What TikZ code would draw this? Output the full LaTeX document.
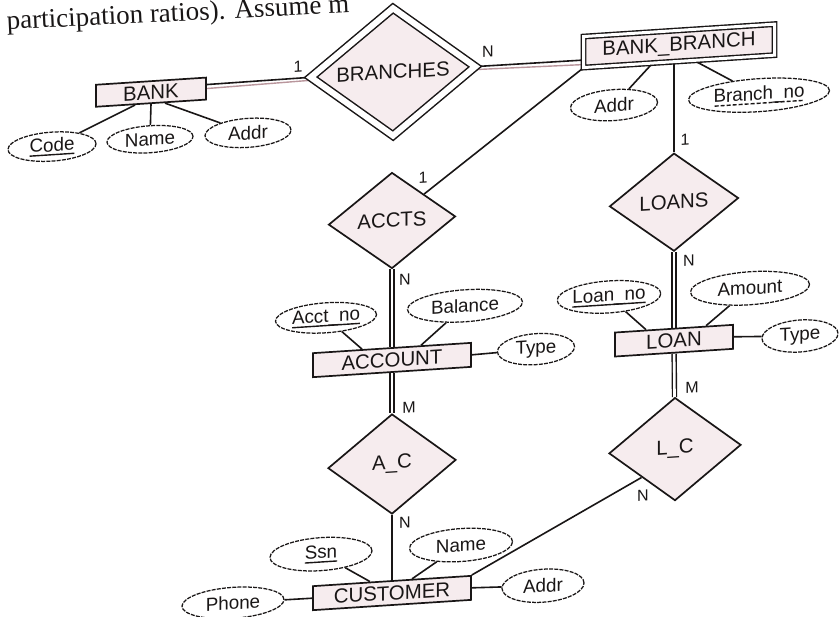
\documentclass[tikz,border=0pt]{standalone}
\usepackage{fontspec}
\usetikzlibrary{shapes.geometric,calc}
\newfontfamily\erfont{Liberation Sans}
\newfontfamily\txtfont{Liberation Serif}
\pgfdeclarelayer{bg}
\pgfsetlayers{bg,main}
\definecolor{boxfill}{RGB}{246,236,238}
\definecolor{ink}{RGB}{25,22,22}
\definecolor{faintink}{RGB}{185,150,156}
% solid underline for key attributes, dashed one for a partial key
\newcommand{\keyul}[1]{\setbox0\hbox{#1}%
  \rlap{\vrule height -2.6pt depth 4.0pt width \wd0}\box0}
\newcommand{\partialul}[1]{\setbox0\hbox{#1}%
  \rlap{\hbox to \wd0{\leaders\hbox to 6pt{\hss\vrule height -2.6pt depth 4.0pt width 4pt\hss}\hfill}}\box0}
\tikzset{
  ent/.style={rectangle, draw=ink, line width=1.7pt, fill=boxfill, inner sep=0pt,
    font=\erfont\fontsize{20.4}{24}\selectfont, text=ink},
  weakent/.style={ent, line width=1.4pt, double=white, double distance=3pt},
  rel/.style={diamond, draw=ink, line width=1.7pt, fill=boxfill, inner sep=0pt,
    font=\erfont\fontsize{20.4}{24}\selectfont, text=ink},
  weakrel/.style={rel, line width=1.5pt, double=white, double distance=6pt},
  attr/.style={ellipse, draw=ink, line width=1.25pt, dash pattern=on 4pt off 1.2pt,
    fill=white, inner sep=0pt, font=\erfont\fontsize{18.8}{22}\selectfont, text=ink},
  conn/.style={draw=ink, line width=1.6pt},
  faint/.style={draw=faintink, line width=1.4pt},
  total/.style={draw=ink, line width=1.4pt, double=white, double distance=2.6pt},
  card/.style={font=\erfont\fontsize{16}{19}\selectfont, inner sep=0pt, text=ink},
}
\begin{document}
\begin{tikzpicture}[x=1pt,y=-1pt]
\useasboundingbox (0,0) rectangle (839,617);
\clip (0,0) rectangle (839,617);
\begin{pgfonlayer}{bg}
  \fill[white] (0,0) rectangle (839,617);
\end{pgfonlayer}

% line of running text above the figure
\node[anchor=base west, inner sep=0pt, rotate=2.8, text=ink,
      font=\txtfont\fontsize{27}{32}\selectfont] (hdr) at (7,29.5)
  {participation ratios). Assume m};

\begin{scope}[yslant=0.065, transform shape]
  % entity types
  \node[ent, minimum width=110pt, minimum height=22pt] (bank) at (151,102) {BANK};
  \node[weakent, minimum width=191pt, minimum height=31pt] (bb) at (679,90) {BANK\_BRANCH};
  \node[ent, minimum width=158pt, minimum height=24pt] (account) at (392,385.5) {ACCOUNT};
  \node[ent, minimum width=118pt, minimum height=24pt] (loan) at (674,384.5) {LOAN};
  \node[ent, minimum width=158pt, minimum height=24pt] (cust) at (392,618.5) {CUSTOMER};

  % relationship types
  \node[weakrel, minimum width=165pt, minimum height=128pt] (branches) at (393,97.5) {BRANCHES};
  \node[rel, minimum width=127pt, minimum height=96pt] (accts) at (392,246) {ACCTS};
  \node[rel, minimum width=129pt, minimum height=98pt] (loans) at (674,246) {LOANS};
  \node[rel, minimum width=128pt, minimum height=100pt] (ac) at (392,489.5) {A\_C};
  \node[rel, minimum width=132pt, minimum height=103pt] (lc) at (675,493) {L\_C};

  % attributes
  \node[attr, minimum width=88pt, minimum height=29pt] (code) at (52,150) {\keyul{Code}};
  \node[attr, minimum width=86pt, minimum height=27pt] (bname) at (150,149) {Name};
  \node[attr, minimum width=86pt, minimum height=29pt] (baddr) at (248,149) {Addr};
  \node[attr, minimum width=87pt, minimum height=31pt] (bbaddr) at (614,145) {Addr};
  \node[attr, minimum width=141pt, minimum height=33pt] (bno) at (759,144.5) {\partialul{Branch\_no}};
  \node[attr, minimum width=101pt, minimum height=30pt] (acctno) at (326,339) {\keyul{Acct\_no}};
  \node[attr, minimum width=115pt, minimum height=32pt] (balance) at (465,336) {Balance};
  \node[attr, minimum width=77pt, minimum height=31pt] (atype) at (536,384) {Type};
  \node[attr, minimum width=98pt, minimum height=32pt] (loanno) at (609,336.5) {\keyul{Loan\_no}};
  \node[attr, minimum width=119pt, minimum height=33pt] (amount) at (750,337) {Amount};
  \node[attr, minimum width=76pt, minimum height=32pt] (ltype) at (800,388) {Type};
  \node[attr, minimum width=102pt, minimum height=33pt] (ssn) at (321,575) {\keyul{Ssn}};
  \node[attr, minimum width=103pt, minimum height=33pt] (cname) at (461,575) {Name};
  \node[attr, minimum width=82pt, minimum height=33pt] (caddr) at (543,621) {Addr};
  \node[attr, minimum width=102pt, minimum height=31pt] (phone) at (233,618) {Phone};

  \begin{pgfonlayer}{bg}
    % relationship connectors
    \draw[conn] ($(bank.east)+(0,-4)$) -- (branches.west);
    \draw[faint] (bank.east) -- ($(branches.west)+(0,3)$);
    \draw[conn] (branches.east) -- ($(bb.west)+(0,8)$);
    \draw[faint] ($(branches.east)+(0,3)$) -- ($(bb.west)+(0,12.5)$);
    \draw[conn] (bb.south west) -- (accts.north east);
    \draw[conn] (loans |- bb.south) -- (loans);
    \draw[total] (accts) -- (account);
    \draw[total] (account) -- (ac);
    \draw[total] (loans) -- (loan);
    \draw[total] (loan) -- (lc);
    \draw[conn] (ac) -- (cust);
    \draw[conn] (lc.south west) -- (cust.north east);

    % attribute connectors
    \draw[conn] ($(bank.south)+(-16,0)$) -- (code);
    \draw[conn] (bank.south) -- (bname);
    \draw[conn] ($(bank.south)+(14,0)$) -- (baddr);
    \draw[conn] ($(bb.south)+(-27,0)$) -- (bbaddr);
    \draw[conn] ($(bb.south)+(16,0)$) -- (bno);
    \draw[conn] ($(account.north)+(-30,0)$) -- (acctno);
    \draw[conn] ($(account.north)+(29,0)$) -- (balance);
    \draw[conn] (account.east) -- (atype);
    \draw[conn] ($(loan.north)+(-28,0)$) -- (loanno);
    \draw[conn] ($(loan.north)+(32,0)$) -- (amount);
    \draw[conn] (loan.east) -- (ltype);
    \draw[conn] ($(cust.north)+(-22,0)$) -- (ssn);
    \draw[conn] ($(cust.north)+(20,0)$) -- (cname);
    \draw[conn] (cust.west) -- (phone);
    \draw[conn] (cust.east) -- (caddr);
  \end{pgfonlayer}

  % cardinality ratios
  \node[card] (c1) at (298,86.4) {1};
  \node[card] (c2) at (488,83.7) {N};
  \node[card] (c3) at (423,205.5) {1};
  \node[card] (c4) at (685,184.5) {1};
  \node[card] (c5) at (405,306) {N};
  \node[card] (c6) at (689,305) {N};
  \node[card] (c7) at (409,434) {M};
  \node[card] (c8) at (692,433) {M};
  \node[card] (c9) at (405,549) {N};
  \node[card] (c10) at (643,537) {N};
\end{scope}
\end{tikzpicture}
\end{document}
